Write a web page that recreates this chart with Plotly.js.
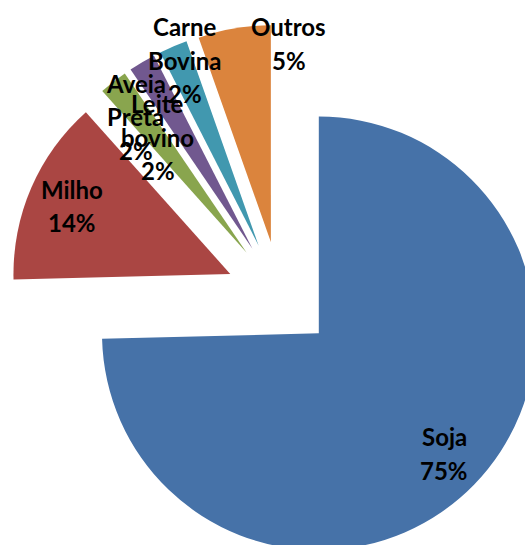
<!DOCTYPE html>
<html>
<head>
<meta charset="utf-8">
<script src="https://cdn.plot.ly/plotly-3.0.1.min.js"></script>
<style>
  html, body { margin: 0; padding: 0; background: #ffffff; overflow: hidden; }
  #chart { position: absolute; left: 0; top: 0; width: 600px; height: 600px; }
</style>
</head>
<body>
<div id="chart"></div>
<script>
// ---- data ----
const categories = ['Soja', 'Milho', 'Aveia Preta', 'Leite bovino', 'Carne Bovina', 'Outros'];
const values = [74.6, 13.8, 2.1, 2.0, 2.1, 5.4];
const colors = ['#4672A8', '#AA4643', '#89A54E', '#71588F', '#4198AF', '#DB843D'];

// ---- layout / label placement (pixels in page) ----
const W = 600, H = 600;
const M = { l: 9, r: 49, t: 24, b: 33 };
const labelPos = [
  { x: 444,   y: 437 },
  { x: 71.5,  y: 189 },
  { x: 135.5, y: 83 },
  { x: 157.5, y: 103.5 },
  { x: 184.5, y: 26.5 },
  { x: 288.5, y: 27 }
];
const lineGap = 33.5;
const labelFont = { family: 'Lato, "Liberation Sans", sans-serif', size: 24, color: '#000000', weight: 'bold' };

const total = values.reduce((a, b) => a + b, 0);
const pw = W - M.l - M.r, ph = H - M.t - M.b;
const annotations = [];
categories.forEach((cat, i) => {
  const lines = cat.split(' ').concat([Math.round(values[i] / total * 100) + '%']);
  lines.forEach((txt, k) => {
    const px = labelPos[i].x, py = labelPos[i].y + k * lineGap;
    annotations.push({
      text: txt, xref: 'paper', yref: 'paper',
      x: (px - M.l) / pw, y: 1 - (py - M.t) / ph,
      xanchor: 'center', yanchor: 'middle', showarrow: false,
      font: labelFont
    });
  });
});

const trace = {
  type: 'pie',
  labels: categories,
  values: values,
  sort: false,
  direction: 'clockwise',
  rotation: 0,
  pull: categories.map(() => 0.25),
  marker: { colors: colors, line: { width: 0 } },
  textinfo: 'none',
  hoverinfo: 'label+percent'
};

const layout = {
  width: W, height: H,
  margin: M,
  showlegend: false,
  paper_bgcolor: '#ffffff',
  plot_bgcolor: '#ffffff',
  annotations: annotations
};

Plotly.newPlot('chart', [trace], layout, { displayModeBar: false, staticPlot: true });
</script>
</body>
</html>
